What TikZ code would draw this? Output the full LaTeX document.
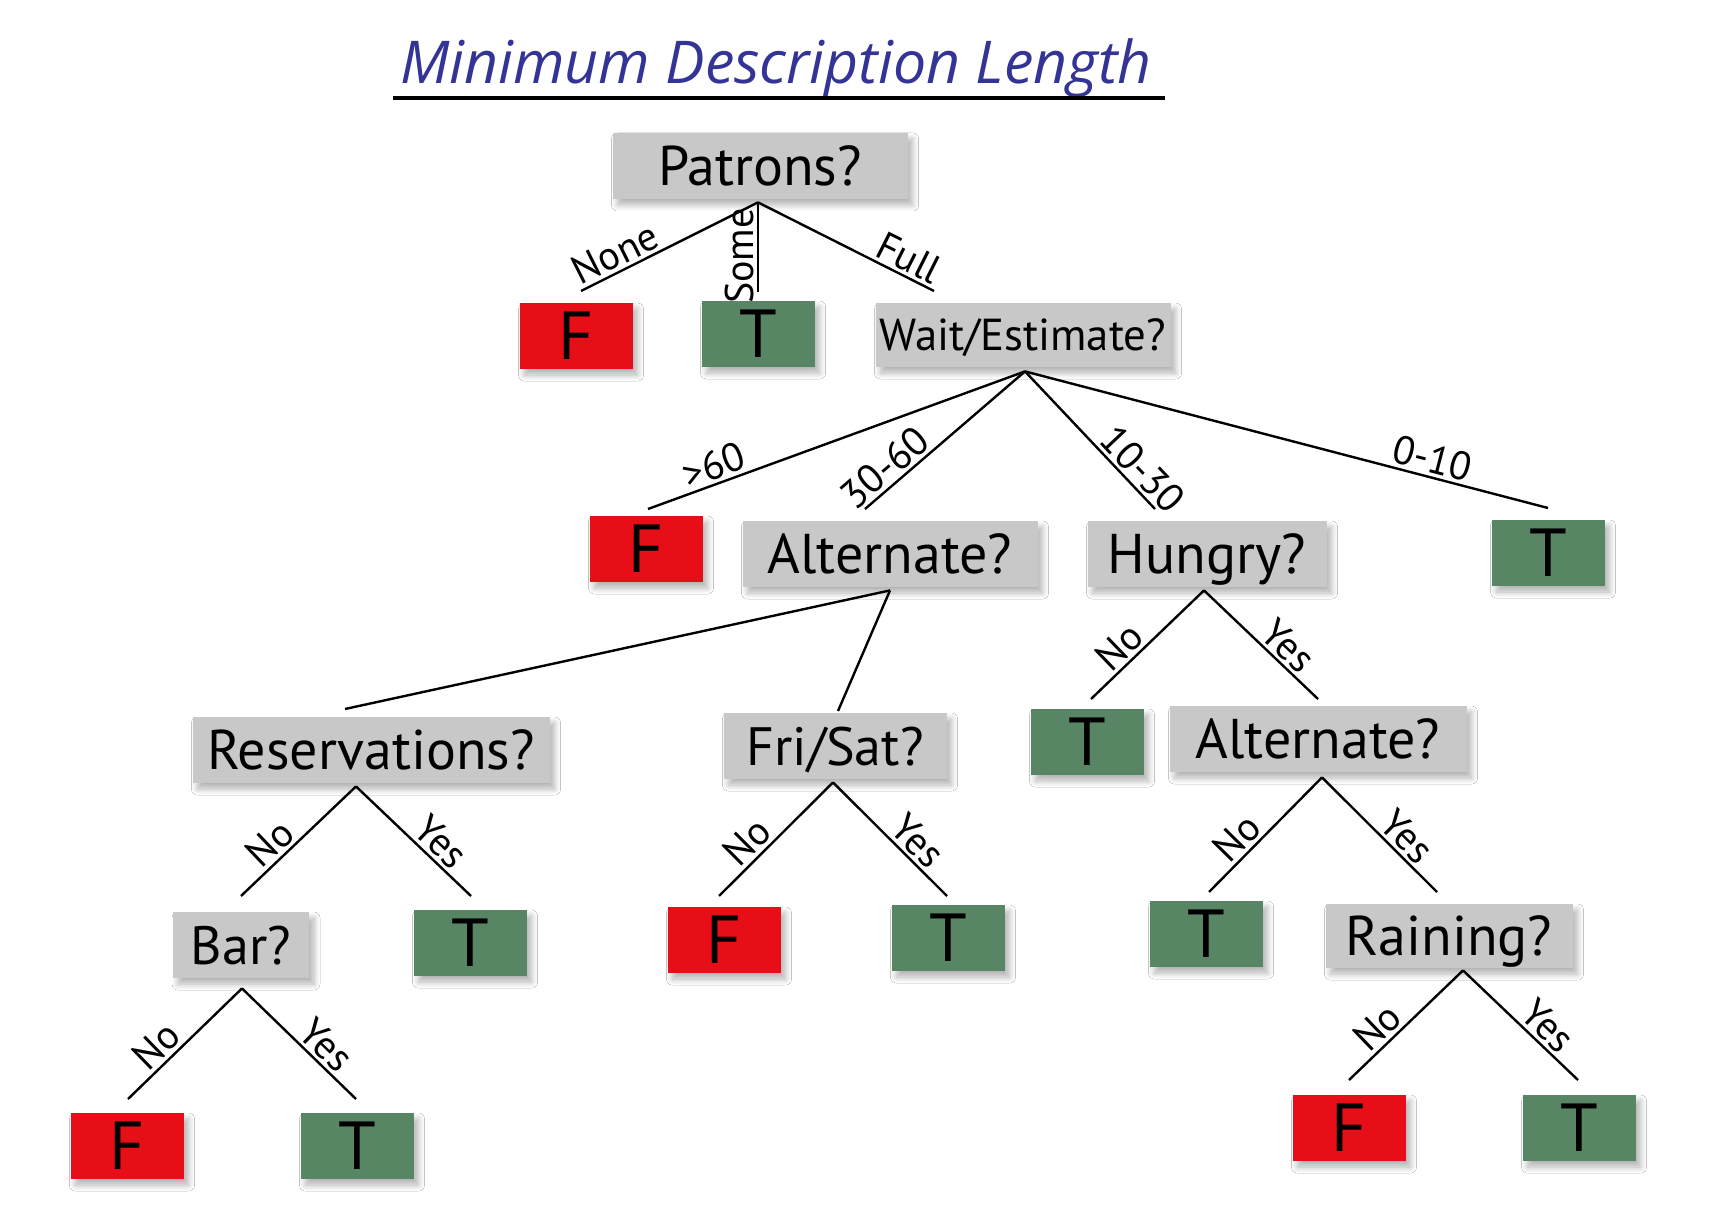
\documentclass[tikz,border=0pt]{standalone}
\usepackage{fontspec}
\setmainfont{PT Sans}
\newfontfamily\titlefont{Open Sans}
\usetikzlibrary{calc,shadows.blur}
\definecolor{boxgray}{RGB}{200,200,200}
\definecolor{tred}{RGB}{232,14,24}
\definecolor{tgreen}{RGB}{88,134,100}
\definecolor{tblue}{RGB}{52,52,150}
\begin{document}
\begin{tikzpicture}[x=0.5pt,y=-0.5pt,
  shade/.style={blur shadow={shadow xshift=2.5pt,shadow yshift=-3pt,shadow blur radius=3pt,shadow blur steps=10,shadow opacity=30}},
  qbox/.style={shade,fill=boxgray,minimum height=33pt,inner sep=0pt,text height=19.6pt,text depth=0pt,font=\fontsize{28}{30}\selectfont},
  leaf/.style={shade,minimum width=56.5pt,minimum height=33pt,inner sep=0pt,text height=23.8pt,text depth=0pt,font=\fontsize{34}{36}\selectfont},
  leafT/.style={leaf,fill=tgreen},
  leafF/.style={leaf,fill=tred},
  edge/.style={line width=1.2pt},
  lab/.style={sloped,above,inner sep=1.5pt,font=\fontsize{20}{22}\selectfont}]
\useasboundingbox (0,0) rectangle (1728,1208);
\fill[white] (0,0) rectangle (1728,1208);
% title
\node[anchor=base,inner sep=0pt,text=tblue,font=\titlefont\itshape\fontsize{29.5}{31}\selectfont] (title) at (776,84) {Minimum Description Length};
\draw[line width=2pt] (393,98) -- (1165,98);
% nodes
\node[qbox,minimum width=147.5pt] (patrons) at (760,166) {Patrons?};
\node[leafF] (f1) at (576,336) {F};
\node[leafT] (t1) at (758,334) {T};
\node[qbox,minimum width=147.5pt,minimum height=32pt,text height=15.7pt,font=\fontsize{22.4}{24}\selectfont] (wait) at (1023,335) {Wait/Estimate?};
\node[leafF] (f2) at (646,549) {F};
\node[qbox,minimum width=147.5pt] (alt) at (890,554) {Alternate?};
\node[qbox,minimum width=119.5pt] (hungry) at (1207,554) {Hungry?};
\node[leafT] (t2) at (1548,553) {T};
\node[qbox,minimum width=178.5pt] (res) at (371,750) {Reservations?};
\node[qbox,minimum width=111.5pt,font=\fontsize{27}{29}\selectfont] (fri) at (835,746) {Fri/Sat?};
\node[leafT] (t3) at (1087,742) {T};
\node[qbox,minimum width=148.5pt] (alt2) at (1318,739) {Alternate?};
\node[qbox,minimum width=68pt,font=\fontsize{27}{29}\selectfont] (bar) at (241,945) {Bar?};
\node[leafT] (t4) at (470,943) {T};
\node[leafF] (f3) at (724,940) {F};
\node[leafT] (t5) at (948,938) {T};
\node[leafT] (t6) at (1206,934) {T};
\node[qbox,minimum width=123.5pt,minimum height=32pt] (rain) at (1449,936) {Raining?};
\node[leafF] (f4) at (127,1146) {F};
\node[leafT] (t7) at (357,1146) {T};
\node[leafF] (f5) at (1349,1128) {F};
\node[leafT] (t8) at (1579,1128) {T};
% apex coordinates
\coordinate (pa) at ($(patrons.south)+(-2,3)$);
\coordinate (pw) at ($(wait.south)+(2,4)$);
\coordinate (palt) at ($(alt.south)+(0,3)$);
\coordinate (ph) at ($(hungry.south)+(-3,3)$);
\coordinate (pr) at ($(res.south)+(-15,3)$);
\coordinate (pf) at ($(fri.south)+(-2,3)$);
\coordinate (pa2) at ($(alt2.south)+(4,5)$);
\coordinate (pb) at ($(bar.south)+(1,10)$);
\coordinate (prn) at ($(rain.south)+(14,2)$);
% end coordinates
\coordinate (e-none) at (581,291);
\coordinate (e-some) at (758,292);
\coordinate (e-full) at (934,291);
\coordinate (e-gt60) at (648,509);
\coordinate (e-3060) at (865,509);
\coordinate (e-1030) at (1155,509);
\coordinate (e-010) at (1548,508);
\coordinate (e-res) at (345,709);
\coordinate (e-fri) at (838,711);
\coordinate (e-hno) at (1091,699);
\coordinate (e-hyes) at (1318,699);
\coordinate (e-rno) at (241,896);
\coordinate (e-ryes) at (471,896);
\coordinate (e-fno) at (719,896);
\coordinate (e-fyes) at (947,896);
\coordinate (e-ano) at (1209,892);
\coordinate (e-ayes) at (1437,892);
\coordinate (e-bno) at (128,1099);
\coordinate (e-byes) at (356,1099);
\coordinate (e-rnno) at (1349,1080);
\coordinate (e-rnyes) at (1578,1080);
% edges
\draw[edge] (e-none) -- node[lab,pos=0.24]{None} (pa);
\draw[edge] (e-some) -- node[lab,pos=0.4]{Some} (pa);
\draw[edge] (pa) -- node[lab,pos=0.81]{Full} (e-full);
\draw[edge] (e-gt60) -- node[lab,pos=0.19]{>60} (pw);
\draw[edge] (e-3060) -- node[lab,pos=0.2]{30-60} (pw);
\draw[edge] (pw) -- node[lab,pos=0.8]{10-30} (e-1030);
\draw[edge] (pw) -- node[lab,pos=0.77]{0-10} (e-010);
\draw[edge] (e-res) -- (palt);
\draw[edge] (e-fri) -- (palt);
\draw[edge] (e-hno) -- node[lab,pos=0.36]{No} (ph);
\draw[edge] (ph) -- node[lab,pos=0.63]{Yes} (e-hyes);
\draw[edge] (e-rno) -- node[lab,pos=0.36]{No} (pr);
\draw[edge] (pr) -- node[lab,pos=0.63]{Yes} (e-ryes);
\draw[edge] (e-fno) -- node[lab,pos=0.36]{No} (pf);
\draw[edge] (pf) -- node[lab,pos=0.63]{Yes} (e-fyes);
\draw[edge] (e-ano) -- node[lab,pos=0.36]{No} (pa2);
\draw[edge] (pa2) -- node[lab,pos=0.63]{Yes} (e-ayes);
\draw[edge] (e-bno) -- node[lab,pos=0.36]{No} (pb);
\draw[edge] (pb) -- node[lab,pos=0.63]{Yes} (e-byes);
\draw[edge] (e-rnno) -- node[lab,pos=0.36]{No} (prn);
\draw[edge] (prn) -- node[lab,pos=0.63]{Yes} (e-rnyes);
\end{tikzpicture}
\end{document}
